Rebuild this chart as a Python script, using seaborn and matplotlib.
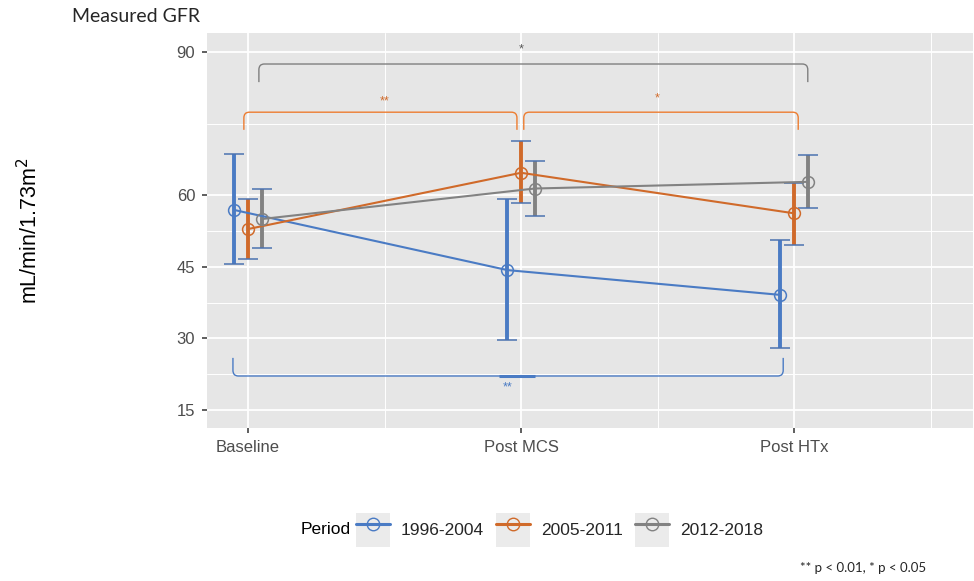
import numpy as np
import pandas as pd
import matplotlib
matplotlib.use("Agg")
import matplotlib.pyplot as plt
from matplotlib.path import Path
from matplotlib.patches import PathPatch, Rectangle
from matplotlib.lines import Line2D
from matplotlib.legend_handler import HandlerTuple
import seaborn as sns

# ---- data -------------------------------------------------------------
timepoints = ["Baseline", "Post MCS", "Post HTx"]
periods = ["1996-2004", "2005-2011", "2012-2018"]

mean_1996 = [56.9, 44.3, 39.1]
low_1996 = [45.6, 29.7, 27.9]
high_1996 = [68.6, 59.1, 50.6]

mean_2005 = [52.9, 64.7, 56.2]
low_2005 = [46.6, 58.3, 49.6]
high_2005 = [59.3, 71.4, 62.6]

mean_2012 = [55.0, 61.4, 62.8]
low_2012 = [48.9, 55.7, 57.3]
high_2012 = [61.4, 67.2, 68.4]

y_ticks = [15, 30, 45, 60, 90]

# ---- styling ----------------------------------------------------------
colors = {"1996-2004": "#4A7BC4", "2005-2011": "#D06A2A", "2012-2018": "#828282"}
dodge = {"1996-2004": -0.05, "2005-2011": 0.0, "2012-2018": 0.05}

sns.set_theme(style="darkgrid")
plt.rcParams["font.family"] = ["Liberation Sans", "DejaVu Sans"]

means = {"1996-2004": mean_1996, "2005-2011": mean_2005, "2012-2018": mean_2012}
lows = {"1996-2004": low_1996, "2005-2011": low_2005, "2012-2018": low_2012}
highs = {"1996-2004": high_1996, "2005-2011": high_2005, "2012-2018": high_2012}

rows = []
for p in periods:
    for i, t in enumerate(timepoints):
        rows.append({"Period": p, "Time": t, "pos": i + 1 + dodge[p],
                     "GFR": means[p][i], "lo": lows[p][i], "hi": highs[p][i]})
df = pd.DataFrame(rows)

fig = plt.figure(figsize=(9.74, 5.81), dpi=100)
ax = fig.add_axes([207 / 974, 1 - 428 / 581, 766 / 974, 395 / 581])
ax.set_facecolor("#E6E6E6")

# error bars first, lines and points on top
for p in periods:
    d = df[df["Period"] == p]
    ax.errorbar(d["pos"], d["GFR"],
                yerr=[d["GFR"] - d["lo"], d["hi"] - d["GFR"]],
                fmt="none", ecolor=colors[p], elinewidth=2.8,
                capsize=7, capthick=2.8, zorder=3)

sns.lineplot(data=df, x="pos", y="GFR", hue="Period", palette=colors,
             hue_order=periods, marker="o", markersize=8.5, linewidth=1.5,
             legend=False, ax=ax, zorder=4, sort=True, estimator=None)
for ln in ax.lines:
    ln.set_markerfacecolor("none")
    ln.set_markeredgecolor(ln.get_color())
    ln.set_markeredgewidth(1.1)

# axes, grid
ax.set_xlim(0.85, 3.655)
ax.set_ylim(11.2, 94.0)
ax.set_xticks([1, 2, 3])
ax.set_xticklabels(timepoints)
ax.set_xticks([1.5, 2.5, 3.5], minor=True)
ax.set_yticks(y_ticks)
ax.set_yticks([22.5, 37.5, 52.5, 75], minor=True)
ax.grid(which="major", color="white", linewidth=1.3)
ax.grid(which="minor", color="white", linewidth=0.7)
for s in ax.spines.values():
    s.set_visible(False)
ax.tick_params(which="major", length=3.5, width=1.1, color="#333333",
               labelsize=12, labelcolor="#4D4D4D", pad=5, left=True, bottom=True)
ax.tick_params(axis="x", which="major", pad=5)
ax.tick_params(which="minor", length=0)
ax.set_xlabel("")
ax.set_ylabel(r"mL/min/1.73m$^2$", fontsize=15.5, color="black")
ax.yaxis.set_label_coords(-0.215, 0.5)


def bracket(x0, x1, yh, yend, color, lw=1.0):
    rx, ry = 0.02, 1.2 * np.sign(yend - yh)
    verts = [(x0, yend), (x0, yh + ry), (x0, yh), (x0 + rx, yh),
             (x1 - rx, yh), (x1, yh), (x1, yh + ry), (x1, yend)]
    codes = [Path.MOVETO, Path.LINETO, Path.CURVE3, Path.CURVE3,
             Path.LINETO, Path.CURVE3, Path.CURVE3, Path.LINETO]
    ax.add_patch(PathPatch(Path(verts, codes), fill=False, edgecolor=color,
                           linewidth=lw, zorder=2))


# significance brackets
bracket(1.04, 3.05, 87.5, 83.7, "#7F7F7F")
ax.text(2.0, 90.6, "*", ha="center", va="center", fontsize=9, color="#555555")

bracket(0.985, 1.985, 77.4, 73.7, "#ED7D31")
ax.text(1.5, 79.6, "**", ha="center", va="center", fontsize=9, color="#D06A2A")
bracket(2.01, 3.015, 77.4, 73.7, "#ED7D31")
ax.text(2.5, 80.2, "*", ha="center", va="center", fontsize=9, color="#D06A2A")

bracket(0.945, 2.96, 22.1, 25.9, "#4A7BC4")
ax.plot([1.92, 2.05], [22.1, 22.1], color="#4A7BC4", lw=2.2, zorder=2,
        solid_capstyle="butt")
ax.text(1.95, 19.8, "**", ha="center", va="center", fontsize=9, color="#4A7BC4")

# legend along the bottom
handles = []
for p in periods:
    box = Rectangle((0, 0), 1, 1, facecolor="#EBEBEB", edgecolor="none")
    ln = Line2D([], [], color=colors[p], lw=2.2, marker="o", markersize=9,
                markerfacecolor="none", markeredgecolor=colors[p])
    handles.append((box, ln))
leg = fig.legend(handles, periods, loc="center left",
                 bbox_to_anchor=(356 / 974, 1 - 530 / 581), ncol=3,
                 frameon=False, fontsize=12.5, handlelength=1.95,
                 handleheight=2.6, handletextpad=0.63, columnspacing=0.7,
                 borderaxespad=0, borderpad=0,
                 handler_map={tuple: HandlerTuple(ndivide=1, pad=0)})
fig.text(301 / 974, 1 - 530 / 581, "Period", fontsize=12.5, ha="left",
         va="center", color="black")

# title and footnote
fig.text(72 / 974, 1 - 16 / 581, "Measured GFR", fontsize=14, ha="left",
         va="center", family=["Lato", "DejaVu Sans"])
fig.text(800 / 974, 1 - 568 / 581, "** p < 0.01, * p < 0.05", fontsize=9.5,
         ha="left", va="center", family=["Lato", "DejaVu Sans"])

fig.savefig("out.png", dpi=100, facecolor="white")
